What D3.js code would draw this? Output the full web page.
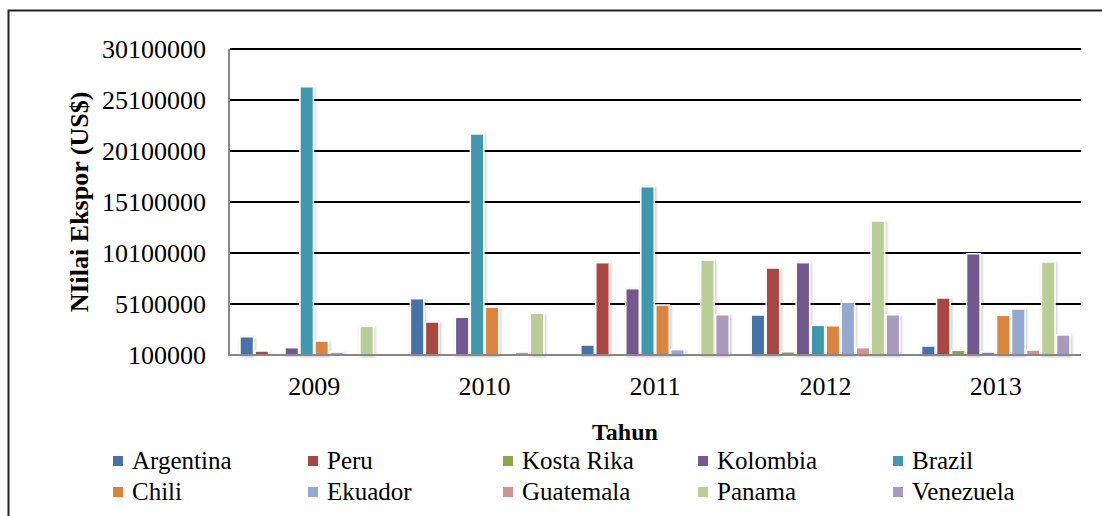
<!DOCTYPE html>
<html>
<head>
<meta charset="utf-8">
<script src="https://cdn.jsdelivr.net/npm/d3@7/dist/d3.min.js"></script>
<style>
  body { margin: 0; background: #fff; }
  text { font-family: "Liberation Serif", "Times New Roman", serif; fill: #000; }
</style>
</head>
<body>
<svg id="chart" width="1102" height="516"></svg>
<script>
var years = ["2009", "2010", "2011", "2012", "2013"];
var countries = ["Argentina", "Peru", "Kosta Rika", "Kolombia", "Brazil",
                 "Chili", "Ekuador", "Guatemala", "Panama", "Venezuela"];
var colors = ["#4572A7", "#AA4643", "#89A54E", "#71588F", "#4198AF",
              "#DB843D", "#93A9CF", "#D19392", "#B9CD96", "#A99BBD"];
var yTicks = [100000, 5100000, 10100000, 15100000, 20100000, 25100000, 30100000];

// one array per country, values for 2009..2013
var argentina = [1890000, 5620000, 1080000, 4020000, 980000];
var peru      = [490000, 3340000, 9150000, 8630000, 5690000];
var kostaRika = [0, 0, 0, 420000, 560000];
var kolombia  = [820000, 3800000, 6600000, 9150000, 10030000];
var brazil    = [26400000, 21770000, 16600000, 3010000, 390000];
var chili     = [1470000, 4780000, 5000000, 2970000, 3990000];
var ekuador   = [390000, 0, 620000, 5270000, 4610000];
var guatemala = [0, 390000, 0, 820000, 590000];
var panama    = [2910000, 4190000, 9410000, 13240000, 9220000];
var venezuela = [0, 0, 4050000, 4050000, 2060000];

var series = [argentina, peru, kostaRika, kolombia, brazil,
              chili, ekuador, guatemala, panama, venezuela];

var svg = d3.select("#chart");
var plotLeft = 229, plotRight = 1081, plotTop = 49, plotBottom = 355;

// outer frame
svg.append("rect")
    .attr("x", 8.5).attr("y", 10.5)
    .attr("width", 1200).attr("height", 600)
    .attr("fill", "none").attr("stroke", "#222").attr("stroke-width", 2);

var defs = svg.append("defs");
var f = defs.append("filter").attr("id", "shadow")
    .attr("x", "-50%").attr("y", "-10%").attr("width", "200%").attr("height", "130%");
f.append("feDropShadow").attr("dx", 1).attr("dy", 1).attr("stdDeviation", 1.5)
    .attr("flood-color", "#000").attr("flood-opacity", 0.25);

var x0 = d3.scaleBand().domain(years).range([plotLeft, plotRight]);
var x1 = d3.scaleBand().domain(countries)
    .range([11, x0.bandwidth() - 11]).paddingInner(0.1).paddingOuter(0);
var y = d3.scaleLinear().domain([100000, 30100000]).range([plotBottom, plotTop]);

// gridlines
svg.append("g").selectAll("line")
    .data(yTicks.slice(1))
    .enter().append("line")
      .attr("x1", plotLeft + 1).attr("x2", plotRight)
      .attr("y1", function(d) { return y(d); })
      .attr("y2", function(d) { return y(d); })
      .attr("stroke", "#000").attr("stroke-width", 2);

// y tick labels
svg.append("g").selectAll("text")
    .data(yTicks)
    .enter().append("text")
      .attr("x", 206)
      .attr("y", function(d) { return y(d); })
      .attr("dy", "0.35em")
      .attr("text-anchor", "end")
      .style("font-size", "26px")
      .text(function(d) { return d; });

// bars
var groups = svg.append("g").selectAll("g")
    .data(years)
    .enter().append("g")
      .attr("transform", function(d) { return "translate(" + x0(d) + ",0)"; });

groups.selectAll("rect")
    .data(function(d, i) {
      return series.map(function(s, j) { return {c: countries[j], v: s[i], col: colors[j]}; })
        .filter(function(d) { return d.v > 100000; });
    })
    .enter().append("rect")
      .attr("x", function(d) { return x1(d.c); })
      .attr("y", function(d) { return y(d.v); })
      .attr("width", x1.bandwidth())
      .attr("height", function(d) { return y(100000) - y(d.v); })
      .attr("fill", function(d) { return d.col; })
      .attr("stroke", "#fff").attr("stroke-width", 1.5)
      .attr("filter", "url(#shadow)");

// axes lines
svg.append("line")
    .attr("x1", plotLeft).attr("x2", plotLeft).attr("y1", plotTop).attr("y2", plotBottom + 1)
    .attr("stroke", "#888").attr("stroke-width", 2);
svg.append("line")
    .attr("x1", plotLeft).attr("x2", plotRight).attr("y1", plotBottom).attr("y2", plotBottom)
    .attr("stroke", "#888").attr("stroke-width", 2);

// x labels
svg.append("g").selectAll("text")
    .data(years)
    .enter().append("text")
      .attr("x", function(d) { return x0(d) + x0.bandwidth() / 2; })
      .attr("y", 395)
      .attr("text-anchor", "middle")
      .style("font-size", "26px")
      .text(function(d) { return d; });

// axis titles
svg.append("text")
    .attr("transform", "translate(88,202) rotate(-90)")
    .attr("text-anchor", "middle")
    .style("font-size", "26px").style("font-weight", "bold")
    .text("NIilai Ekspor (US$)");

svg.append("text")
    .attr("x", 625).attr("y", 440)
    .attr("text-anchor", "middle")
    .style("font-size", "24px").style("font-weight", "bold")
    .text("Tahun");

// legend
var legend = svg.append("g").selectAll("g")
    .data(countries)
    .enter().append("g")
      .attr("transform", function(d, i) {
        return "translate(" + (113 + (i % 5) * 195) + "," + (Math.floor(i / 5) * 31) + ")";
      });

legend.append("rect")
    .attr("x", 0).attr("y", 456)
    .attr("width", 10).attr("height", 10)
    .attr("fill", function(d, i) { return colors[i]; });

legend.append("text")
    .attr("x", 19).attr("y", 469)
    .style("font-size", "25px")
    .text(function(d) { return d; });
</script>
</body>
</html>
